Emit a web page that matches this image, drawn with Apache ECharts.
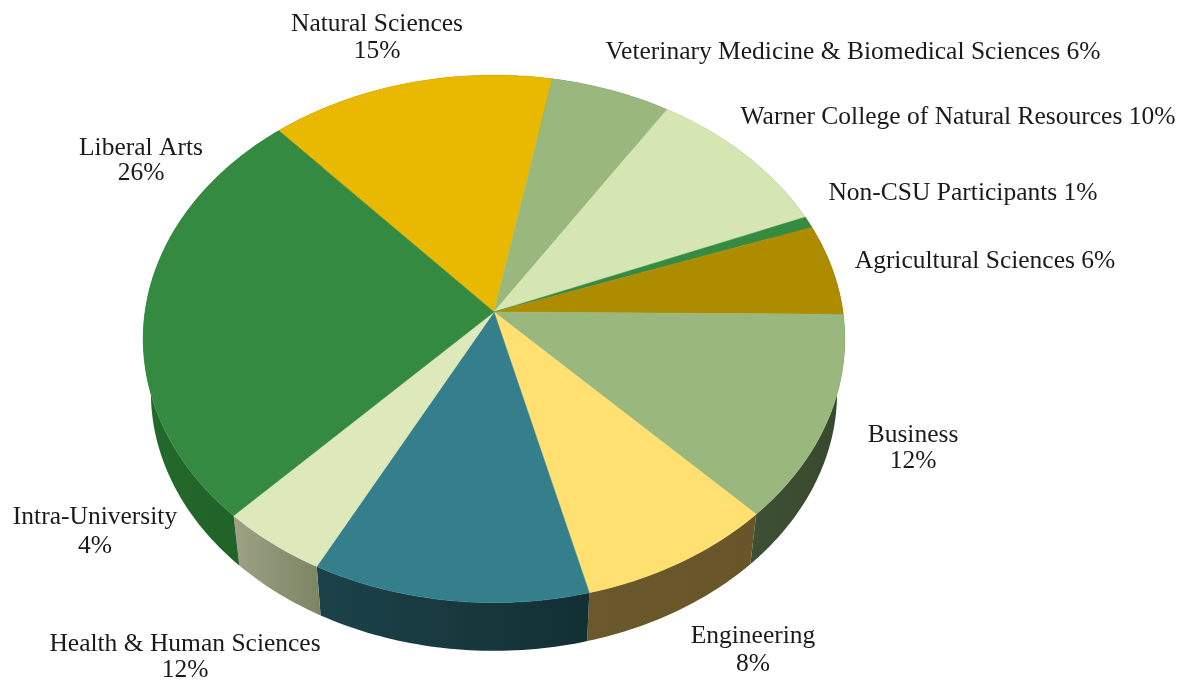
<!DOCTYPE html>
<html><head><meta charset="utf-8">
<style>html,body{margin:0;padding:0;background:#fff}#c{width:1194px;height:680px}</style>
<script src="https://cdn.jsdelivr.net/npm/echarts@6/dist/echarts.min.js"></script>
</head><body><div id="c"></div>
<script>
const categories = ['Natural Sciences','Veterinary Medicine & Biomedical Sciences','Warner College of Natural Resources','Non-CSU Participants','Agricultural Sciences','Business','Engineering','Health & Human Sciences','Intra-University','Liberal Arts'];
const sliceShares = [14.5,6.1,9.8,0.7,5.6,12.6,8.3,11.6,4.5,26.3];
const percentLabels = [15,6,10,1,6,12,8,12,4,26];
const topColors = ['#e8b900','#9ab87e','#d6e6b3','#348b41','#ad8c00','#9ab87e','#ffe070','#357f8d','#dde9bb','#348a41'];
const wallLeft = ['#6d5800','#4a5a3c','#687058','#1c5022','#54440a','#3e5033','#6b592c','#1c4249','#9da284','#246a2c'];
const wallRight = ['#6d5800','#4a5a3c','#687058','#1c5022','#54440a','#38482d','#68562a','#123034','#7b8463','#1f5e27'];

// label placement: centre x, first-line centre y, gap between the two lines (0 = one line)
const labelLayout = [
  [377,24,27],[853,52,0],[958,117,0],[963,193,0],[985,261,0],
  [913,435,26],[753,636,28],[185,644,26],[95,517,29],[141,148,25]
];
const START_DEG = 318.4;
const APEX = {x:494,y:312}, SCALE_X = 349, SCALE_Y = 261, PERSP = -0.102;
const WALL_SHRINK = 0.978, WALL_DROP = 54;
const FONT = '"Liberation Serif", serif', FONT_SIZE = 25.5;

function project(deg, base) {
  const r = deg*Math.PI/180, x = Math.sin(r), y = -Math.cos(r), w = 1+PERSP*y;
  const u = SCALE_X*x/w, v = SCALE_Y*y/w;
  return base ? [APEX.x+WALL_SHRINK*u, APEX.y+0.98*v+WALL_DROP] : [APEX.x+u, APEX.y+v];
}
const total = sliceShares.reduce((a,b)=>a+b,0);
function range(i){
  let s = START_DEG; for(let k=0;k<i;k++) s += sliceShares[k]/total*360;
  return [s, s+sliceShares[i]/total*360];
}
function arc(a,b,base){const n=Math.max(4,Math.ceil(b-a)),p=[];for(let i=0;i<=n;i++)p.push(project(a+(b-a)*i/n,base));return p;}

const seriesData = categories.map((n,i)=>({name:n,value:sliceShares[i]}));
const option = {
  animation:false,
  backgroundColor:'#fff',
  tooltip:{show:false},
  series:[
   {type:'custom',coordinateSystem:'none',z:1,silent:true,data:seriesData,
    renderItem(params){
      const i=params.dataIndex,[a,b]=range(i);
      const top=arc(a,b,false),low=arc(a,b,true).reverse();
      return {type:'polygon',shape:{points:top.concat(low)},
        style:{fill:new echarts.graphic.LinearGradient(0,0,1,0,[{offset:0,color:wallLeft[i]},{offset:1,color:wallRight[i]}]),stroke:null}};
    }},
   {type:'custom',coordinateSystem:'none',z:2,silent:true,data:seriesData,
    renderItem(params){
      const i=params.dataIndex,[a,b]=range(i);
      return {type:'polygon',shape:{points:[[APEX.x,APEX.y]].concat(arc(a,b,false))},
        style:{fill:topColors[i],stroke:topColors[i],lineWidth:0.5}};
    }},
   {type:'custom',coordinateSystem:'none',z:3,silent:true,data:seriesData,
    renderItem(params){
      const i=params.dataIndex,[x,y,gap]=labelLayout[i],name=categories[i],pct=percentLabels[i]+'%';
      return {type:'text',x:x,y:gap?y+gap/2:y,style:{
        text:gap?name+'\n'+pct:name+' '+pct,
        align:'center',verticalAlign:'middle',fill:'#1a1a1a',font:FONT_SIZE+'px '+FONT,lineHeight:gap||FONT_SIZE}};
    }}
  ]
};
echarts.init(document.getElementById('c'),null,{renderer:'canvas'}).setOption(option);
</script></body></html>
